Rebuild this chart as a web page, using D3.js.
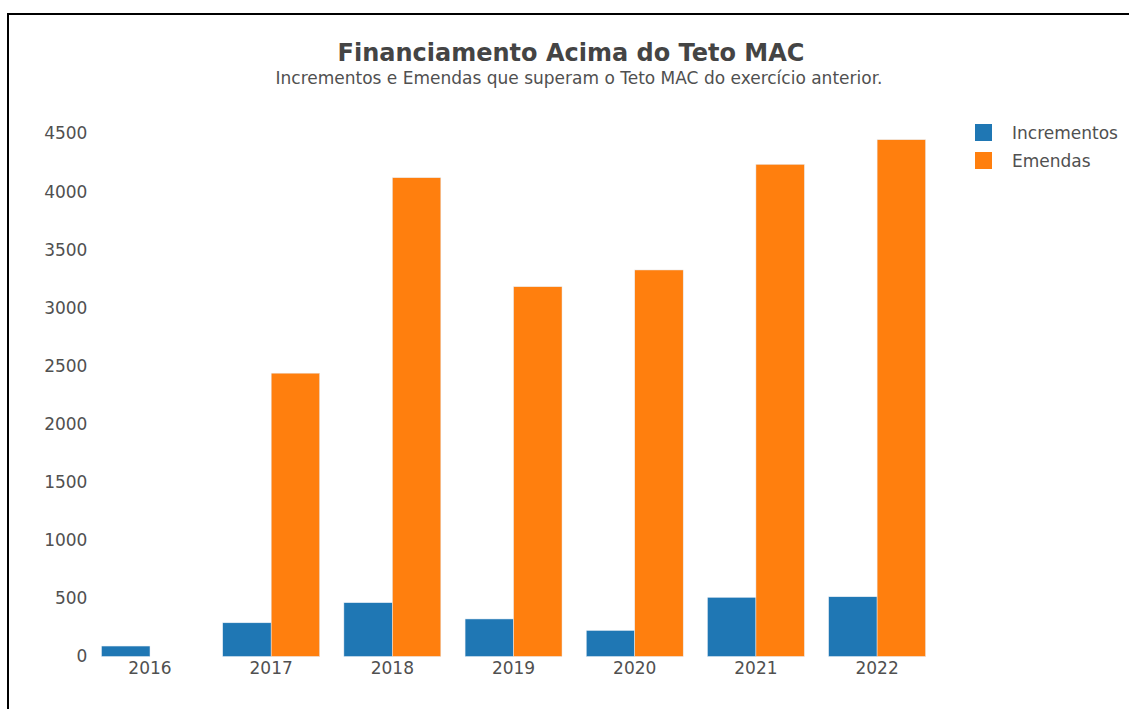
<!DOCTYPE html>
<html>
<head>
<meta charset="utf-8">
<script src="https://cdn.jsdelivr.net/npm/d3@7"></script>
<style>
  body { margin: 0; background: #fff; }
  svg { display: block; font-family: "DejaVu Sans", sans-serif; }
</style>
</head>
<body>
<svg id="chart" width="1129" height="709"></svg>
<script>
var years = ['2016', '2017', '2018', '2019', '2020', '2021', '2022'];
var incrementos = [90, 290, 463, 323, 224, 509, 514];
var emendas = [0, 2438, 4120, 3182, 3326, 4235, 4447];
var seriesNames = ['Incrementos', 'Emendas'];
var seriesColors = ['#1f77b4', '#ff7f0e'];
var yTicks = [0, 500, 1000, 1500, 2000, 2500, 3000, 3500, 4000, 4500];

var svg = d3.select("#chart");

// frame (only top and left edges are visible in the picture)
svg.append("rect")
    .attr("x", 8).attr("y", 14)
    .attr("width", 1200).attr("height", 800)
    .attr("fill", "none")
    .attr("stroke", "#000")
    .attr("stroke-width", 2);

var plot = {left: 89.4, right: 937.7, top: 112.6, bottom: 656.5};

var xScale = d3.scaleBand()
    .domain(years)
    .range([plot.left, plot.right])
    .paddingInner(0.2)
    .paddingOuter(0.1);

var xSub = d3.scaleBand()
    .domain(seriesNames)
    .range([0, xScale.bandwidth()]);

var yScale = d3.scaleLinear()
    .domain([0, 4680])
    .range([plot.bottom, plot.top]);

// y axis
var yAxis = svg.append("g")
    .attr("transform", "translate(" + (plot.left - 2) + ",0)")
    .call(d3.axisLeft(yScale).tickValues(yTicks).tickFormat(d3.format("d")).tickSize(0).tickPadding(0));
yAxis.select(".domain").remove();
yAxis.selectAll("text")
    .attr("fill", "#505050")
    .style("font-size", "17px")
    .style("font-family", "DejaVu Sans, sans-serif");

// x axis
var xAxis = svg.append("g")
    .attr("transform", "translate(0," + plot.bottom + ")")
    .call(d3.axisBottom(xScale).tickSize(0).tickPadding(5));
xAxis.select(".domain").remove();
xAxis.selectAll("text")
    .attr("fill", "#505050")
    .style("font-size", "17px")
    .style("font-family", "DejaVu Sans, sans-serif");

// bars
var allSeries = [incrementos, emendas];
allSeries.forEach(function(values, s) {
    svg.append("g")
        .selectAll("rect")
        .data(values)
        .enter().append("rect")
        .attr("x", function(d, i) { return xScale(years[i]) + xSub(seriesNames[s]); })
        .attr("y", function(d) { return yScale(d); })
        .attr("width", xSub.bandwidth())
        .attr("height", function(d) { return yScale(0) - yScale(d); })
        .attr("fill", seriesColors[s])
        .attr("stroke", function(d) { return d > 0 ? "#e8eef5" : "none"; })
        .attr("stroke-width", 0.5);
});

// title
svg.append("text")
    .attr("x", 571)
    .attr("y", 61)
    .attr("text-anchor", "middle")
    .attr("fill", "#444")
    .style("font-size", "24px")
    .style("font-weight", "bold")
    .text("Financiamento Acima do Teto MAC");

svg.append("text")
    .attr("x", 579)
    .attr("y", 84)
    .attr("text-anchor", "middle")
    .attr("fill", "#505050")
    .style("font-size", "17px")
    .text("Incrementos e Emendas que superam o Teto MAC do exercício anterior.");

// legend
var legend = svg.append("g")
    .selectAll("g")
    .data(seriesNames)
    .enter().append("g")
    .attr("transform", function(d, i) { return "translate(975," + (124 + i * 28) + ")"; });
legend.append("rect")
    .attr("width", 17).attr("height", 17)
    .attr("fill", function(d, i) { return seriesColors[i]; });
legend.append("text")
    .attr("x", 37)
    .attr("y", 14.5)
    .attr("fill", "#505050")
    .style("font-size", "17px")
    .text(function(d) { return d; });
</script>
</body>
</html>
